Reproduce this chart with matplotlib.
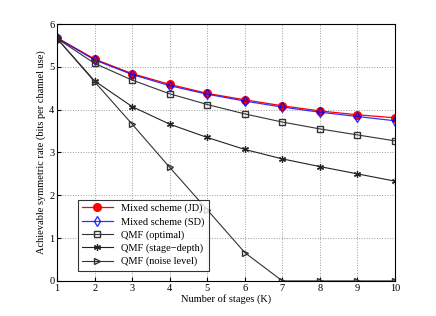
import numpy as np
import matplotlib
matplotlib.use('Agg')
import matplotlib.pyplot as plt

plt.rcParams['font.family'] = ['Liberation Serif', 'DejaVu Serif']
plt.rcParams['font.size'] = 7.5

K = np.arange(1, 11)
mixedJD = [5.68, 5.18, 4.84, 4.59, 4.38, 4.23, 4.09, 3.97, 3.88, 3.81]
mixedSD = [5.67, 5.16, 4.82, 4.56, 4.36, 4.20, 4.06, 3.94, 3.84, 3.74]
qmfOptimal = [5.66, 5.08, 4.69, 4.37, 4.12, 3.90, 3.71, 3.55, 3.41, 3.27]
qmfStageDepth = [5.66, 4.67, 4.07, 3.66, 3.35, 3.07, 2.85, 2.67, 2.50, 2.33]
qmfNoise = [5.66, 4.65, 3.66, 2.65, 1.66, 0.66, 0, 0, 0, 0]

fig = plt.figure(figsize=(4.36, 3.16), dpi=100)
ax = fig.add_axes([0.131, 0.111, 0.775, 0.813])

ax.plot(K, mixedJD, color='red', marker='o', markersize=5.5, lw=0.9, label='Mixed scheme (JD)')
ax.plot(K, mixedSD, color='blue', marker='d', markersize=5, mfc='none', lw=0.9, alpha=0.8, label='Mixed scheme (SD)')
ax.plot(K, qmfOptimal, color='#333333', marker='s', markersize=5, mfc='none', lw=0.8, label='QMF (optimal)')
ax.plot(K, qmfStageDepth, color='#222222', marker=(6, 2, 0), markersize=5, mew=0.9, lw=0.8, label='QMF (stage\u2212depth)')
ax.plot(K, qmfNoise, color='#333333', marker='>', markersize=5, mfc='none', lw=0.8, label='QMF (noise level)')

ax.set_xlim(1, 10)
ax.set_ylim(0, 6)
ax.set_xticks(K)
ax.set_yticks(range(0, 7))
ax.grid(True, linestyle=':', color='#999999', lw=0.7)
ax.tick_params(direction='in', length=3, pad=2)
ax.set_xlabel('Number of stages (K)', labelpad=1)
ax.set_ylabel('Achievable symmetric rate (bits per channel use)', labelpad=2)

leg = ax.legend(loc='lower left', bbox_to_anchor=(0.045, 0.02), fancybox=False,
                edgecolor='black', handlelength=3, borderpad=0.4, labelspacing=0.35,
                fontsize=7.5)
leg.get_frame().set_linewidth(0.8)

fig.savefig('out.png', dpi=100)
